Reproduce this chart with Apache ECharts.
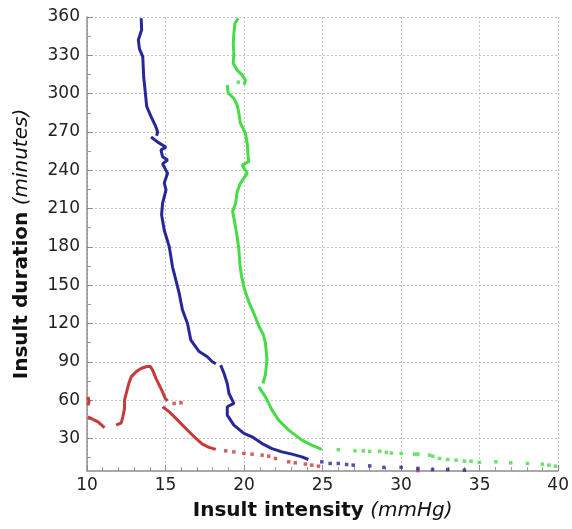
<!DOCTYPE html>
<html>
<head>
<meta charset="utf-8">
<script src="https://cdn.jsdelivr.net/npm/echarts@6/dist/echarts.min.js"></script>
<style>
html,body{margin:0;padding:0;background:#fff;}
#chart{width:572px;height:529px;}
</style>
</head>
<body>
<div id="chart"></div>
<script>
// ---- data (x = insult intensity mmHg, y = insult duration minutes) ----
const yTickValues = [30,60,90,120,150,180,210,240,270,300,330,360];
const yMinorTickValues = [15,45,75,105,135,165,195,225,255,285,315,345];

const blueSeg1 = [[13.45,359],[13.48,350],[13.27,342],[13.34,335],[13.55,329],[13.61,313],[13.72,300],[13.8,290],[14.08,282],[14.35,275],[14.5,270],[14.43,267]];
const blueSeg2 = [[14.08,266],[14.5,262],[15.03,258],[14.71,256],[14.81,250.6],[15.13,248],[14.81,245],[15.13,237.6],[14.92,230],[15.03,224.7],[14.81,214],[14.75,205],[14.92,193],[15.24,180],[15.45,164],[15.66,154],[15.87,143.6],[16.08,130.5],[16.4,120],[16.61,107],[17.14,98],[17.66,94],[17.98,90],[18.2,88.5]];
const blueSeg3 = [[18.51,87.4],[18.72,81],[18.93,73],[19.04,65.2],[19.35,57.4],[18.93,54.8],[18.93,48.2],[19.35,40.4],[19.99,34],[20.51,31.3],[21.15,26],[21.78,22],[22.41,19.5],[23.05,17.7],[23.68,15.6],[24.1,13.5]];
const blueDots = [[24.95,11.7],[25.48,10.4],[26.0,10.4],[26.53,9.6],[26.95,9.1],[28.0,8.5],[28.9,7.3],[30.0,7.3],[31.07,6.5],[32.0,5.7],[32.97,5.7],[34.03,5.2]];

const greenSeg1 = [[19.63,359],[19.42,355],[19.35,347],[19.31,339],[19.35,331.5],[19.31,323.6],[19.56,318.4],[19.88,314.5],[20.09,310.6],[20.0,307]];
const greenSeg2 = [[18.93,306.7],[18.99,300.2],[19.2,298],[19.35,296.3],[19.56,291],[19.67,284.6],[19.77,276.7],[20.09,269],[20.2,261],[20.26,250.6],[20.3,246.7],[19.88,244],[20.2,237.6],[19.77,230],[19.56,223],[19.46,214],[19.27,208],[19.42,198],[19.56,188],[19.67,178],[19.73,167],[19.84,157],[20.0,148],[20.3,137],[20.62,128],[20.94,118],[21.2,112],[21.36,105],[21.46,92],[21.36,80],[21.2,73]];
const greenSeg3 = [[20.94,70.4],[21.36,62.6],[21.78,52.2],[22.2,44.3],[22.84,36.5],[23.68,28.7],[24.31,24.8],[24.95,21.4]];
const greenDots = [[19.63,309],[26.0,21.2],[27.06,20.3],[27.59,20.3],[28.0,19.8],[28.64,20],[29.06,19],[29.38,18.5],[30.0,18.3],[30.86,17.7],[31.07,17.7],[31.81,16.9],[32.02,16.1],[32.44,14.3],[32.97,13.5],[33.5,13],[34.03,12.2],[34.45,12.2],[34.98,11.2],[36.03,11.7],[36.98,10.9],[38.04,10.4],[38.99,9.9],[39.41,9.1],[39.83,8.3]];

const redSeg1 = [[10.06,62.6],[10.13,58.7],[10.06,56]];
const redSeg2 = [[10.06,46.9],[10.38,44.9],[10.7,43],[11.01,39.6],[11.12,38.6]];
const redSeg3 = [[11.86,40.4],[12.18,42.2],[12.28,46.9],[12.39,53.5],[12.39,60],[12.5,65.2],[12.66,73],[12.81,78.2],[13.13,82.2],[13.44,84.8],[13.76,86.1],[14.01,86.6],[14.18,83.5],[14.39,77],[14.6,71.8],[14.81,66.5],[14.98,61.3],[15.13,59.5]];
const redSeg4 = [[14.81,54.8],[15.24,50.8],[15.66,45.7],[16.08,40.4],[16.5,35.2],[16.93,30],[17.35,25.5],[17.77,23],[18.2,21.4]];
const redDots = [[15.55,57.4],[15.98,57.9],[18.83,20.3],[19.35,19.5],[19.99,18.3],[20.51,17.7],[21.15,16.9],[21.57,16.1],[22.0,14.3],[22.84,11.7],[23.26,10.9],[23.9,9.9],[24.31,9.1],[24.74,8.3],[31.07,4.8]];

const BLUE = '#27279a', GREEN = '#45dc45', RED = '#c83a3a';

function seg(data, color) {
  return {type:'line', data:data, showSymbol:false, symbol:'none', animation:false,
    lineStyle:{color:color, width:3}, itemStyle:{color:color}, z:3};
}
function dots(data, color) {
  return {type:'scatter', data:data, symbol:'rect', symbolSize:3.5, animation:false,
    itemStyle:{color:color}, z:3};
}

const FONT = 'DejaVu Sans';
const chart = echarts.init(document.getElementById('chart'), null, {renderer:'canvas'});
chart.setOption({
  animation:false,
  backgroundColor:'#fff',
  grid:{left:87, right:11, top:17, bottom:58, containLabel:false},
  xAxis:{
    type:'value', min:10, max:40, interval:5,
    name:'{b|Insult intensity} {i|(mmHg)}',
    nameLocation:'middle', nameGap:30,
    nameTextStyle:{fontSize:20, color:'#111', fontFamily:FONT,
      rich:{b:{fontSize:20, fontWeight:'bold', color:'#111', fontFamily:FONT},
            i:{fontSize:20, fontStyle:'italic', color:'#111', fontFamily:FONT}}},
    axisLine:{show:true, onZero:false, lineStyle:{color:'#8c8c8c', width:1.5}},
    axisTick:{show:true, inside:true, length:6, lineStyle:{color:'#8c8c8c'}},
    minorTick:{show:true, splitNumber:5, length:4, lineStyle:{color:'#9a9a9a'}},
    axisLabel:{fontSize:17, color:'#222', fontFamily:FONT, margin:6},
    splitLine:{show:true, lineStyle:{color:'#c4c4c4', type:[2,2], width:1}}
  },
  yAxis:[{
    type:'value', min:4.5, max:360, position:'left',
    name:'{b|Insult duration} {i|(minutes)}',
    nameLocation:'middle', nameGap:55,
    nameTextStyle:{fontSize:20, color:'#111', fontFamily:FONT,
      rich:{b:{fontSize:20, fontWeight:'bold', color:'#111', fontFamily:FONT},
            i:{fontSize:20, fontStyle:'italic', color:'#111', fontFamily:FONT}}},
    axisLine:{show:true, onZero:false, lineStyle:{color:'#8c8c8c', width:1.5}},
    axisTick:{show:true, inside:true, length:6, customValues:yTickValues, lineStyle:{color:'#8c8c8c'}},
    axisLabel:{fontSize:17, color:'#222', fontFamily:FONT, margin:7, customValues:yTickValues},
    splitLine:{show:true, lineStyle:{color:'#c4c4c4', type:[2,2], width:1}}
  },{
    type:'value', min:4.5, max:360, position:'left', offset:0,
    axisLine:{show:false},
    axisTick:{show:true, inside:true, length:4, customValues:yMinorTickValues, lineStyle:{color:'#9a9a9a'}},
    axisLabel:{show:false, customValues:yMinorTickValues},
    splitLine:{show:false}
  }],
  series:[
    seg(redSeg1, RED), seg(redSeg2, RED), seg(redSeg3, RED), seg(redSeg4, RED), dots(redDots, RED),
    seg(blueSeg1, BLUE), seg(blueSeg2, BLUE), seg(blueSeg3, BLUE), dots(blueDots, BLUE),
    seg(greenSeg1, GREEN), seg(greenSeg2, GREEN), seg(greenSeg3, GREEN), dots(greenDots, GREEN)
  ]
});
</script>
</body>
</html>
